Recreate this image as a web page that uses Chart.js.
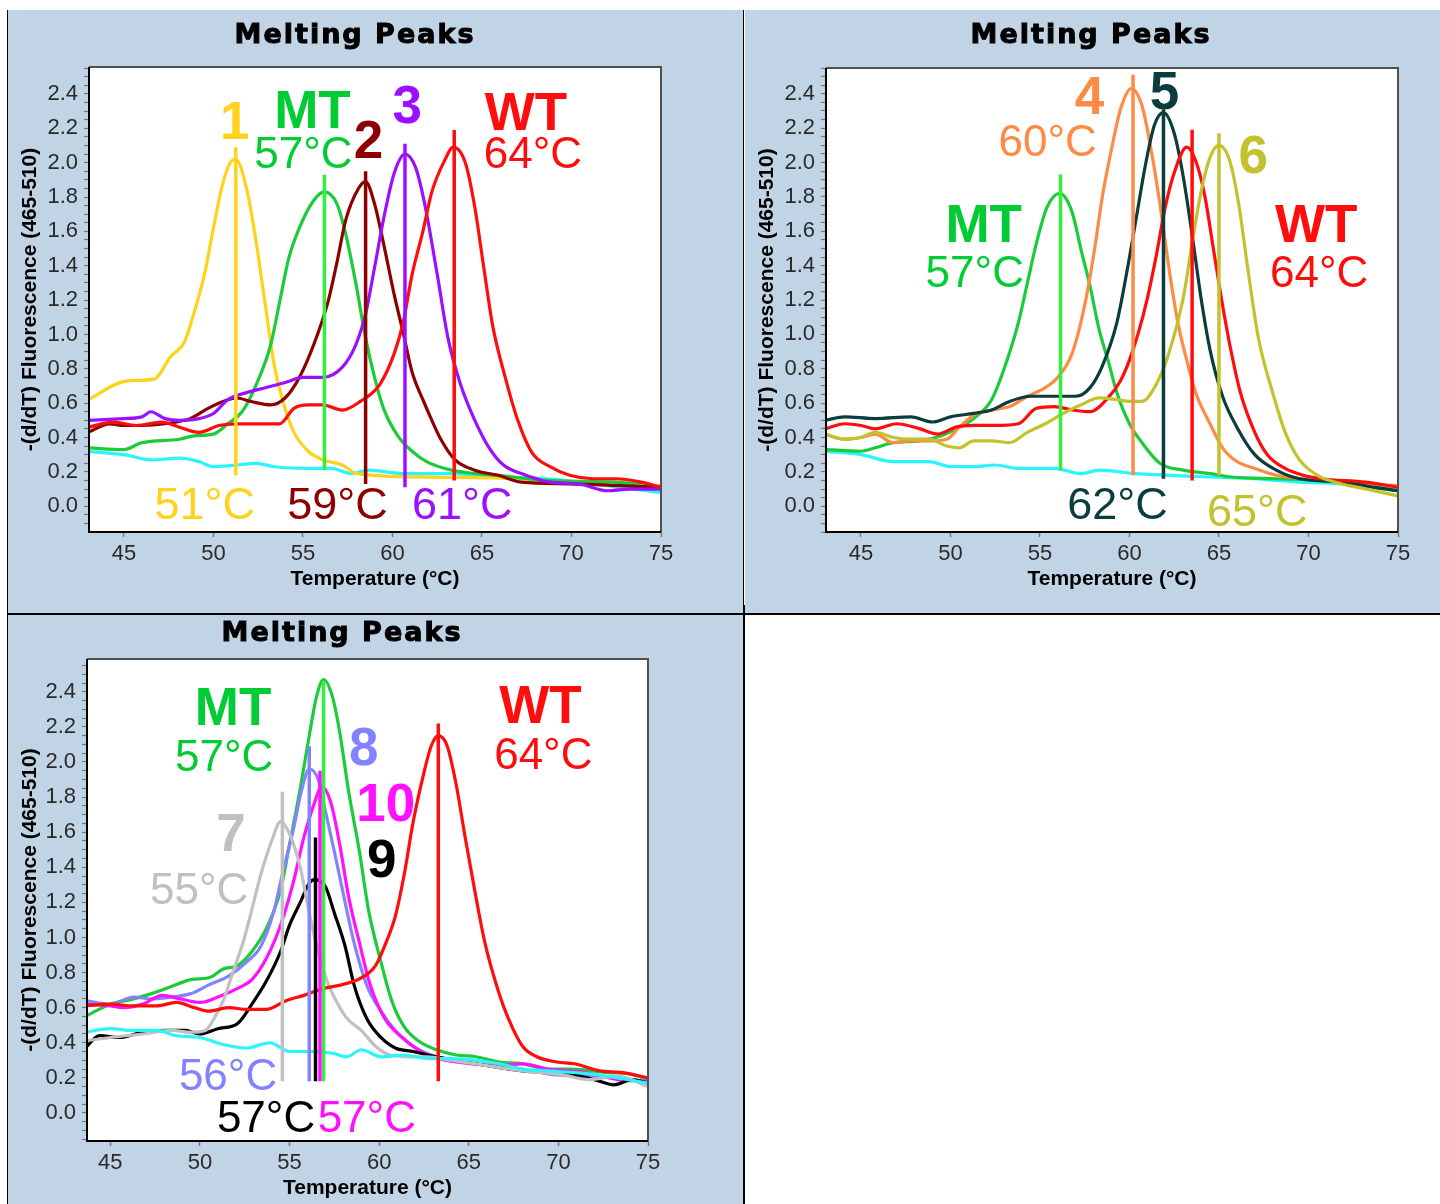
<!DOCTYPE html>
<html>
<head>
<meta charset="utf-8">
<title>Melting Peaks</title>
<script src="https://cdn.jsdelivr.net/npm/chart.js@4.4.1/dist/chart.umd.min.js"></script>
<style>
  body { margin: 0; background: #fff; width: 1440px; height: 1204px; position: relative; overflow: hidden; }
  .panel { position: absolute; background: #c1d4e6; }
  .rule { position: absolute; background: #000; }
  canvas { display: block; }
</style>
</head>
<body>
<div class="rule" style="left:7px;top:10px;width:1px;height:1194px"></div>
<div class="rule" style="left:743px;top:10px;width:1px;height:595px"></div>
<div class="rule" style="left:743px;top:605px;width:2px;height:599px"></div>
<div class="rule" style="left:7px;top:613px;width:1433px;height:2px"></div>
<div class="panel" style="left:8px;top:10px;width:735px;height:603px"><canvas id="c1" width="735" height="603"></canvas></div>
<div class="panel" style="left:745px;top:10px;width:695px;height:603px"><canvas id="c2" width="695" height="603"></canvas></div>
<div class="panel" style="left:8px;top:615px;width:735px;height:589px"><canvas id="c3" width="735" height="589"></canvas></div>

<script>
/* ---- data: [temperature °C, -(d/dT) fluorescence] ---- */

// panel 1
const p1Cyan = [[43.0,0.32],[45,0.30],[46.5,0.27],[48.1,0.28],[49.2,0.26],[50,0.23],[51.3,0.24],[52.4,0.25],[53.4,0.23],[55.3,0.22],[56.6,0.22],[57.7,0.19],[58.7,0.21],[60.6,0.19],[63.3,0.19],[65.9,0.17],[68.6,0.16],[71.2,0.13],[75,0.08]];
const p1Sample1 = [[43.0,0.62],[45.2,0.73],[46.7,0.74],[47.6,0.87],[48.4,0.96],[48.9,1.12],[49.5,1.35],[50.0,1.62],[50.5,1.87],[51.0,2.01],[51.25,2.02],[51.85,1.85],[52.4,1.53],[52.9,1.17],[53.4,0.82],[54.0,0.57],[54.5,0.43],[55.3,0.32],[56.1,0.27],[57.2,0.24],[58.0,0.19],[62.0,0.17],[67.2,0.16],[70.7,0.13],[75,0.12]];
const p1MT = [[43.0,0.34],[45,0.33],[46,0.37],[48.1,0.39],[48.9,0.41],[50,0.42],[50.8,0.48],[51.6,0.55],[52.4,0.71],[53.2,0.94],[53.7,1.19],[54.2,1.44],[54.8,1.62],[55.6,1.78],[56.2,1.83],[56.9,1.76],[57.4,1.58],[57.95,1.30],[58.5,0.98],[59.0,0.75],[59.5,0.57],[60.3,0.41],[61.1,0.32],[61.9,0.26],[63.3,0.21],[64.6,0.19],[65.9,0.18],[68.6,0.15],[72.5,0.14],[75,0.11]];
const p1Sample2 = [[43.0,0.43],[44.2,0.48],[45,0.47],[46,0.47],[47.3,0.48],[48.7,0.51],[49.7,0.57],[50.8,0.62],[51.3,0.63],[52.1,0.61],[53.2,0.59],[54,0.63],[54.8,0.75],[55.6,0.94],[56.4,1.19],[56.9,1.42],[57.4,1.67],[58.1,1.85],[58.5,1.89],[59,1.76],[59.5,1.53],[60.1,1.23],[60.6,1.01],[61.1,0.78],[61.7,0.62],[62.2,0.50],[62.7,0.39],[63.5,0.27],[64.6,0.21],[65.9,0.18],[67.2,0.14],[69.9,0.13],[75,0.11]];
const p1Sample3 = [[43.0,0.50],[45,0.51],[46,0.52],[46.5,0.55],[47.3,0.51],[48.1,0.50],[49.2,0.51],[50,0.54],[50.8,0.62],[51.8,0.66],[52.9,0.69],[54,0.72],[55,0.75],[56.1,0.75],[57.2,0.81],[57.95,0.94],[58.5,1.12],[59,1.39],[59.5,1.67],[60.1,1.94],[60.7,2.05],[61.3,1.97],[61.8,1.76],[62.5,1.35],[63.1,0.98],[63.8,0.71],[64.6,0.50],[65.4,0.34],[66.2,0.24],[67.2,0.19],[68.8,0.14],[70.4,0.13],[72,0.09],[73.3,0.10],[75,0.10]];
const p1WT = [[43.0,0.46],[44.4,0.49],[45.7,0.47],[47.1,0.49],[48.1,0.46],[49.2,0.43],[50.3,0.47],[51.3,0.48],[52.4,0.48],[53.7,0.48],[54.5,0.57],[55.3,0.59],[56.1,0.59],[57.2,0.56],[58.2,0.61],[59.3,0.71],[60.1,0.89],[60.6,1.07],[61.1,1.35],[61.7,1.60],[62.2,1.83],[62.9,2.01],[63.4,2.09],[64.1,1.99],[64.6,1.74],[65.1,1.39],[65.6,1.05],[66.3,0.75],[67,0.50],[67.8,0.31],[68.8,0.23],[69.9,0.18],[71.2,0.16],[72.5,0.16],[73.9,0.14],[75,0.11]];
const p1PeakT      = [51.25, 56.2, 58.5, 60.7, 63.45];
const p1PeakTop    = [2.09, 1.93, 1.95, 2.11, 2.19];
const p1PeakBottom = [0.18, 0.21, 0.13, 0.11, 0.15];

// panel 2
const p2Cyan = [[43.0,0.32],[45,0.30],[46.8,0.26],[48.8,0.26],[50,0.23],[51.3,0.23],[52.5,0.24],[53.8,0.22],[55.8,0.22],[57.3,0.19],[58.3,0.21],[60.3,0.19],[62.3,0.18],[64.5,0.17],[67,0.16],[69.5,0.14],[72,0.13],[75,0.10]];
const p2MT = [[43.0,0.33],[45,0.32],[45.8,0.34],[46.8,0.37],[48.3,0.38],[49.5,0.41],[50.5,0.46],[51.3,0.51],[52.3,0.62],[53,0.80],[53.8,1.07],[54.3,1.30],[54.8,1.53],[55.4,1.74],[56.1,1.82],[56.8,1.71],[57.3,1.49],[57.8,1.28],[58.3,1.03],[58.8,0.85],[59.3,0.66],[60,0.48],[60.7,0.37],[61.7,0.25],[63,0.21],[64.5,0.19],[65.7,0.17],[68.2,0.16],[70.7,0.15],[75,0.09]];
const p2Sample4 = [[43.0,0.42],[44.1,0.39],[45,0.40],[45.8,0.42],[46.8,0.37],[47.8,0.38],[48.8,0.38],[49.8,0.39],[50.5,0.46],[51.3,0.53],[52.3,0.56],[53.3,0.58],[54.3,0.64],[55.3,0.69],[56,0.75],[56.8,0.89],[57.5,1.17],[58,1.46],[58.5,1.81],[59,2.08],[59.5,2.31],[60.1,2.43],[60.7,2.33],[61.2,2.08],[61.7,1.76],[62.2,1.39],[62.7,1.07],[63.2,0.85],[63.7,0.66],[64.5,0.48],[65.2,0.34],[66,0.26],[67,0.22],[68.2,0.18],[70.7,0.15],[73.2,0.13],[75,0.12]];
const p2Sample5 = [[43.0,0.50],[44.1,0.52],[45.8,0.51],[47.8,0.52],[49,0.49],[50,0.52],[51.3,0.54],[52.3,0.56],[53.3,0.61],[54.5,0.64],[55.3,0.64],[56.3,0.64],[57,0.64],[57.8,0.69],[58.5,0.82],[59.3,1.07],[59.9,1.39],[60.4,1.69],[60.9,1.99],[61.4,2.22],[61.9,2.29],[62.5,2.17],[63,1.92],[63.5,1.58],[64,1.21],[64.5,0.91],[65.2,0.64],[66,0.46],[67,0.30],[68.2,0.21],[69.5,0.16],[72,0.14],[73.7,0.11],[75,0.09]];
const p2WT = [[43.0,0.45],[44.1,0.48],[45,0.47],[45.8,0.45],[47,0.48],[48.3,0.45],[49.3,0.42],[50.3,0.46],[51.3,0.47],[52.5,0.47],[53.8,0.48],[54.8,0.57],[55.8,0.58],[56.8,0.56],[57.8,0.55],[58.8,0.63],[59.5,0.73],[60,0.85],[60.5,1.01],[61,1.21],[61.5,1.46],[62,1.74],[62.5,1.94],[63.2,2.09],[63.7,2.01],[64.2,1.81],[64.7,1.49],[65.2,1.17],[65.7,0.89],[66.2,0.66],[67,0.43],[67.7,0.30],[68.7,0.22],[69.7,0.18],[70.7,0.16],[73.2,0.14],[75,0.11]];
const p2Sample6 = [[43.0,0.42],[44.1,0.39],[45,0.40],[45.8,0.43],[46.8,0.40],[47.8,0.39],[48.8,0.39],[49.8,0.35],[50.5,0.34],[51.3,0.38],[52.3,0.38],[53.3,0.37],[54.3,0.43],[55.3,0.48],[56.3,0.54],[57.3,0.59],[58.3,0.63],[59.3,0.62],[60,0.61],[60.7,0.61],[61.5,0.71],[62.2,0.89],[63,1.21],[63.5,1.53],[64,1.83],[64.5,2.03],[65,2.10],[65.6,2.01],[66.1,1.76],[66.6,1.39],[67.2,0.98],[68,0.66],[68.7,0.43],[69.5,0.27],[70.5,0.18],[71.5,0.14],[73.2,0.10],[75,0.06]];
const p2PeakT      = [56.15, 60.2, 61.9, 63.5, 65.0];
const p2PeakTop    = [1.93, 2.51, 2.31, 2.19, 2.17];
const p2PeakBottom = [0.21, 0.18, 0.16, 0.15, 0.18];

// panel 3
const p3Cyan = [[43.6,0.46],[45,0.48],[46.3,0.47],[47.6,0.47],[48.7,0.44],[50,0.43],[51.3,0.39],[52.6,0.37],[53.9,0.40],[55,0.35],[56.4,0.35],[57.4,0.34],[58.2,0.32],[59,0.36],[60.1,0.32],[61.4,0.33],[62.7,0.31],[64,0.31],[65.4,0.30],[66.7,0.28],[68,0.25],[69.4,0.24],[72,0.22],[75,0.17]];
const p3WT = [[43.6,0.61],[45,0.62],[46.3,0.61],[47.6,0.61],[48.7,0.63],[49.7,0.60],[50.5,0.58],[51.6,0.60],[52.6,0.59],[53.7,0.59],[54.8,0.64],[55.8,0.67],[56.9,0.71],[57.9,0.73],[59,0.77],[59.8,0.84],[60.3,0.95],[60.9,1.12],[61.4,1.36],[61.9,1.66],[62.5,1.94],[62.9,2.09],[63.3,2.15],[63.8,2.09],[64.3,1.87],[64.8,1.57],[65.4,1.23],[65.9,0.97],[66.6,0.71],[67.2,0.54],[68,0.38],[68.8,0.32],[69.9,0.29],[70.9,0.28],[72.3,0.24],[73.6,0.23],[75,0.20]];
const p3MT = [[43.6,0.55],[45,0.62],[46.3,0.65],[47.3,0.68],[48.4,0.72],[49.5,0.76],[50.5,0.77],[51.3,0.82],[52.1,0.84],[52.9,0.92],[53.7,1.05],[54.5,1.27],[55,1.53],[55.6,1.85],[56.1,2.15],[56.5,2.37],[56.9,2.47],[57.4,2.37],[57.8,2.17],[58.3,1.83],[58.9,1.49],[59.4,1.16],[60.1,0.86],[60.7,0.64],[61.4,0.49],[62.2,0.41],[63.2,0.36],[64.3,0.33],[65.4,0.32],[66.7,0.29],[68,0.28],[69.4,0.25],[70.7,0.25],[72.8,0.23],[74.1,0.22],[75,0.19]];
const p3Sample8 = [[43.6,0.64],[45,0.62],[46.3,0.66],[47.3,0.65],[48.4,0.66],[49.5,0.68],[50.5,0.73],[51.6,0.78],[52.6,0.86],[53.4,0.95],[54.1,1.14],[54.6,1.36],[55.2,1.61],[55.7,1.85],[56.1,1.96],[56.6,1.90],[57,1.72],[57.5,1.49],[58.1,1.20],[58.6,0.97],[59.3,0.73],[60.1,0.58],[60.9,0.47],[61.9,0.38],[63.2,0.32],[65.4,0.28],[68,0.25],[69.6,0.22],[72,0.21],[73.9,0.19],[75,0.18]];
const p3Sample10 = [[43.6,0.62],[45,0.61],[45.7,0.60],[46.8,0.62],[47.9,0.67],[48.9,0.65],[50,0.63],[51,0.66],[52.1,0.71],[52.9,0.76],[53.7,0.88],[54.5,1.07],[55.2,1.31],[55.8,1.57],[56.4,1.77],[56.8,1.86],[57.3,1.77],[57.8,1.53],[58.3,1.23],[58.9,0.97],[59.5,0.73],[60.3,0.54],[61.4,0.42],[62.7,0.33],[64.3,0.29],[66.7,0.27],[68,0.28],[69.4,0.25],[71.5,0.23],[73.3,0.19],[75,0.18]];
const p3Sample9 = [[43.6,0.37],[44.4,0.44],[45.5,0.43],[46.8,0.46],[48.1,0.47],[49.2,0.47],[50,0.45],[51,0.48],[52.1,0.51],[52.9,0.62],[53.7,0.75],[54.5,0.92],[55,1.07],[55.6,1.20],[56.1,1.31],[56.4,1.33],[57,1.29],[57.5,1.14],[58.1,0.95],[58.6,0.73],[59.3,0.54],[60.1,0.43],[60.9,0.37],[61.9,0.35],[63.2,0.32],[65.4,0.28],[68,0.24],[70.7,0.22],[72,0.19],[73.1,0.16],[74.1,0.19],[75,0.17]];
const p3Sample7 = [[43.6,0.41],[45,0.43],[46.8,0.45],[48.4,0.47],[49.5,0.46],[50.3,0.47],[50.8,0.54],[51.3,0.64],[51.8,0.79],[52.4,0.97],[52.9,1.16],[53.4,1.36],[54,1.55],[54.5,1.66],[55,1.59],[55.6,1.40],[56.1,1.14],[56.6,0.92],[57.1,0.75],[57.7,0.62],[58.2,0.54],[59,0.47],[59.8,0.38],[60.6,0.33],[61.7,0.32],[62.7,0.32],[64,0.30],[65.4,0.28],[68,0.24],[70.1,0.22],[71.7,0.19],[73.3,0.21],[75,0.15]];
const p3PeakT      = [54.6, 56.1, 56.45, 56.7, 56.9, 63.3];
const p3PeakTop    = [1.83, 2.09, 1.57, 1.95, 2.46, 2.22];
const p3PeakBottom = [0.18, 0.18, 0.18, 0.18, 0.18, 0.18];

// axis ticks
const xTicks = [45, 50, 55, 60, 65, 70, 75];
const yLabelled = [0.0, 0.2, 0.4, 0.6, 0.8, 1.0, 1.2, 1.4, 1.6, 1.8, 2.0, 2.2, 2.4];

/* ---- colours ---- */
const C = {
  yellow: "#ffd21c", green: "#1ccb3a", lime: "#33f03f", darkred: "#8e0000",
  purple: "#9b10ff", red: "#ff0d0d", cyan: "#2af5ff", orange: "#ff8a45",
  teal: "#0b3d3d", olive: "#c2c22e", lavender: "#8383ff", magenta: "#ff10ff",
  black: "#000000", grey: "#c0c0c0", label: "#00cc33"
};

const FONT = "'Liberation Sans', Arial, sans-serif";

/* ---- decoration plugin: plot background, frame, titles and peak labels ---- */
const decoPlugin = {
  id: "deco",
  beforeDraw(chart) {
    const a = chart.chartArea, ctx = chart.ctx;
    ctx.save();
    ctx.fillStyle = "#fff";
    ctx.fillRect(a.left, a.top, a.right - a.left, a.bottom - a.top);
    ctx.restore();
  },
  afterDatasetsDraw(chart, args, o) {
    const ctx = chart.ctx, xs = chart.scales.x, ys = chart.scales.y;
    ctx.save();
    ctx.textAlign = "center";
    ctx.textBaseline = "alphabetic";
    for (const l of o.labels) {
      const size = l.bold ? 53 : (l.size || 44);
      ctx.font = (l.bold ? "bold " : "") + size + "px " + FONT;
      ctx.fillStyle = l.color;
      ctx.fillText(l.text, xs.getPixelForValue(l.x), ys.getPixelForValue(l.y) + size * 0.358);
    }
    ctx.restore();
  },
  afterDraw(chart, args, o) {
    const ctx = chart.ctx, a = chart.chartArea;
    ctx.save();
    // frame
    ctx.lineWidth = 2;
    ctx.strokeStyle = "#505050";
    ctx.beginPath();
    ctx.moveTo(a.left, a.top); ctx.lineTo(a.right, a.top); ctx.lineTo(a.right, a.bottom);
    ctx.stroke();
    ctx.strokeStyle = "#000";
    ctx.beginPath();
    ctx.moveTo(a.left, a.top); ctx.lineTo(a.left, a.bottom); ctx.lineTo(a.right, a.bottom);
    ctx.stroke();
    // chart title (heavy face, spaced out)
    ctx.fillStyle = "#000";
    ctx.strokeStyle = "#000";
    ctx.lineWidth = 1;
    ctx.textAlign = "center";
    ctx.textBaseline = "middle";
    ctx.font = "bold 27px 'DejaVu Sans', sans-serif";
    ctx.letterSpacing = "2px";
    ctx.fillText("Melting Peaks", o.titleX, o.titleY);
    ctx.strokeText("Melting Peaks", o.titleX, o.titleY);
    ctx.letterSpacing = "0px";
    // axis titles
    ctx.font = "bold 21px " + FONT;
    ctx.fillText("Temperature (\u00B0C)", (a.left + a.right) / 2, a.bottom + 47);
    ctx.translate(22, (a.top + a.bottom) / 2);
    ctx.rotate(-Math.PI / 2);
    ctx.fillText("-(d/dT) Fluorescence (465-510)", 0, 0);
    ctx.restore();
  }
};

function curve(points, color) {
  return {
    data: points.map(p => ({ x: p[0], y: p[1] })),
    borderColor: color, borderWidth: 3.2, pointRadius: 0,
    cubicInterpolationMode: "monotone", order: 2
  };
}

function peakLines(ts, tops, bottoms, colors) {
  return ts.map((t, i) => ({
    data: [{ x: t, y: bottoms[i] }, { x: t, y: tops[i] }],
    borderColor: colors[i], borderWidth: 3.5, pointRadius: 0, tension: 0, order: 1
  }));
}

function makePanel(id, box, range, datasets, labels, title) {
  const canvas = document.getElementById(id);
  const W = canvas.width, H = canvas.height;
  new Chart(canvas.getContext("2d"), {
    type: "line",
    data: { datasets },
    options: {
      responsive: false,
      animation: false,
      devicePixelRatio: 1,
      layout: { padding: { left: 0, top: box.top, right: W - box.right, bottom: 0 } },
      plugins: {
        legend: { display: false },
        tooltip: { enabled: false },
        deco: { labels, titleX: title.x, titleY: title.y }
      },
      scales: {
        x: {
          type: "linear", min: range.xMin, max: 75,
          afterFit: s => { s.height = H - box.bottom; },
          afterBuildTicks: s => { s.ticks = xTicks.map(v => ({ value: v })); },
          border: { display: false },
          grid: { drawOnChartArea: false, tickLength: 5, tickColor: "#7a7a7a", tickWidth: 1.5 },
          ticks: { color: "#2a2a2a", padding: 4, font: { family: FONT, size: 22 }, maxRotation: 0 }
        },
        y: {
          min: range.yMin, max: range.yMax,
          afterFit: s => { s.width = box.left; },
          border: { display: false },
          grid: { drawOnChartArea: false, tickLength: 5, tickColor: "#7a7a7a", tickWidth: 1.2 },
          ticks: {
            stepSize: 0.05, includeBounds: false, autoSkip: false,
            color: "#2a2a2a", padding: 6, font: { family: FONT, size: 22 },
            callback: v => yLabelled.some(t => Math.abs(t - v) < 1e-6) ? v.toFixed(1) : ""
          }
        }
      }
    },
    plugins: [decoPlugin]
  });
}

/* ---- panel 1 ---- */
makePanel("c1",
  { left: 81, top: 57, right: 653, bottom: 522 },
  { xMin: 43.05, yMin: -0.15, yMax: 2.557 },
  [
    ...peakLines(p1PeakT, p1PeakTop, p1PeakBottom, [C.yellow, C.lime, C.darkred, C.purple, C.red]),
    curve(p1WT, C.red), curve(p1Sample3, C.purple), curve(p1Sample2, C.darkred),
    curve(p1MT, C.green), curve(p1Sample1, C.yellow), curve(p1Cyan, C.cyan)
  ],
  [
    { text: "1", x: 51.19, y: 2.25, color: C.yellow, bold: true },
    { text: "MT", x: 55.53, y: 2.31, color: C.label, bold: true },
    { text: "57\u00B0C", x: 55.03, y: 2.06, color: C.label },
    { text: "2", x: 58.66, y: 2.14, color: C.darkred, bold: true },
    { text: "3", x: 60.83, y: 2.34, color: C.purple, bold: true },
    { text: "WT", x: 67.46, y: 2.30, color: C.red, bold: true },
    { text: "64\u00B0C", x: 67.85, y: 2.06, color: C.red },
    { text: "51\u00B0C", x: 49.51, y: 0.02, color: C.yellow, size: 45 },
    { text: "59\u00B0C", x: 56.93, y: 0.02, color: C.darkred, size: 45 },
    { text: "61\u00B0C", x: 63.9, y: 0.02, color: C.purple, size: 45 }
  ],
  { x: 347, y: 26 }
);

/* ---- panel 2 ---- */
makePanel("c2",
  { left: 81, top: 58, right: 653, bottom: 522 },
  { xMin: 43.05, yMin: -0.15, yMax: 2.55 },
  [
    ...peakLines(p2PeakT, p2PeakTop, p2PeakBottom, [C.lime, C.orange, C.teal, C.red, C.olive]),
    curve(p2Sample6, C.olive), curve(p2WT, C.red), curve(p2Sample5, C.teal),
    curve(p2Sample4, C.orange), curve(p2MT, C.green), curve(p2Cyan, C.cyan)
  ],
  [
    { text: "4", x: 57.77, y: 2.39, color: C.orange, bold: true },
    { text: "5", x: 61.95, y: 2.42, color: C.teal, bold: true },
    { text: "60\u00B0C", x: 55.43, y: 2.13, color: C.orange },
    { text: "6", x: 66.92, y: 2.05, color: C.olive, bold: true },
    { text: "MT", x: 51.86, y: 1.65, color: C.label, bold: true },
    { text: "57\u00B0C", x: 51.36, y: 1.37, color: C.label },
    { text: "WT", x: 70.43, y: 1.65, color: C.red, bold: true },
    { text: "64\u00B0C", x: 70.6, y: 1.37, color: C.red },
    { text: "62\u00B0C", x: 59.33, y: 0.02, color: C.teal, size: 45 },
    { text: "65\u00B0C", x: 67.14, y: -0.02, color: C.olive, size: 45 }
  ],
  { x: 346, y: 26 }
);

/* ---- panel 3 ---- */
makePanel("c3",
  { left: 79, top: 44, right: 640, bottom: 526 },
  { xMin: 43.7, yMin: -0.16, yMax: 2.587 },
  [
    ...peakLines(p3PeakT, p3PeakTop, p3PeakBottom, [C.grey, C.lavender, C.black, C.magenta, C.lime, C.red]),
    curve(p3Cyan, C.cyan), curve(p3WT, C.red), curve(p3Sample7, C.grey), curve(p3Sample9, C.black),
    curve(p3Sample10, C.magenta), curve(p3Sample8, C.lavender), curve(p3MT, C.green)
  ],
  [
    { text: "MT", x: 51.85, y: 2.32, color: C.label, bold: true },
    { text: "57\u00B0C", x: 51.35, y: 2.04, color: C.label },
    { text: "8", x: 59.14, y: 2.09, color: C.lavender, bold: true },
    { text: "WT", x: 69.0, y: 2.33, color: C.red, bold: true },
    { text: "64\u00B0C", x: 69.16, y: 2.05, color: C.red },
    { text: "10", x: 60.37, y: 1.77, color: C.magenta, bold: true },
    { text: "7", x: 51.74, y: 1.60, color: C.grey, bold: true },
    { text: "9", x: 60.14, y: 1.45, color: C.black, bold: true },
    { text: "55\u00B0C", x: 49.96, y: 1.28, color: C.grey },
    { text: "56\u00B0C", x: 51.57, y: 0.22, color: C.lavender },
    { text: "57\u00B0C", x: 53.69, y: -0.02, color: C.black },
    { text: "57\u00B0C", x: 59.31, y: -0.02, color: C.magenta }
  ],
  { x: 334, y: 19 }
);
</script>
</body>
</html>
